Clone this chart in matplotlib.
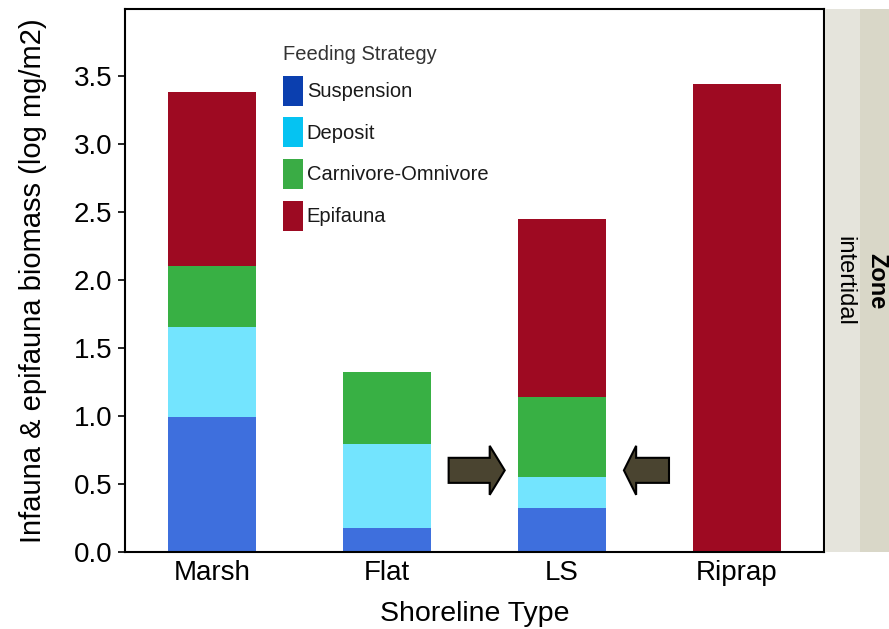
import matplotlib
matplotlib.use("Agg")
import matplotlib.pyplot as plt
import numpy as np
from matplotlib.patches import Patch, Rectangle, FancyArrow

plt.rcParams['font.family'] = ['Liberation Sans', 'DejaVu Sans']

# ====== DATA ======
shorelines = ["Marsh", "Flat", "LS", "Riprap"]
strategies = ["Suspension", "Deposit", "Carnivore-Omnivore", "Epifauna"]
suspension = [0.99, 0.18, 0.32, 0.0]
deposit = [0.66, 0.61, 0.23, 0.0]
carnivore = [0.45, 0.53, 0.59, 0.0]
epifauna = [1.28, 0.0, 1.31, 3.44]
yticks = [0.0, 0.5, 1.0, 1.5, 2.0, 2.5, 3.0, 3.5]

bar_colors = ["#3E6FDD", "#73E4FE", "#38B044", "#9E0A22"]
legend_colors = ["#0B3FAF", "#05C3F2", "#3AAC45", "#9C0A22"]

# ====== FIGURE ======
fig = plt.figure(figsize=(8.89, 6.29), dpi=100)
ax = fig.add_axes([125 / 889, 1 - 552 / 629, 699 / 889, 543 / 629])

x = np.arange(len(shorelines))
bottom = np.zeros(len(shorelines))
for vals, col in zip([suspension, deposit, carnivore, epifauna], bar_colors):
    ax.bar(x, vals, width=0.505, bottom=bottom, color=col, linewidth=0)
    bottom += np.array(vals)

ax.set_xlim(-0.5, 3.5)
ax.set_ylim(0, 3.99)
ax.set_xticks(x)
ax.set_xticklabels(shorelines, fontsize=20)
ax.set_yticks(yticks)
ax.set_yticklabels([f"{v:.1f}" for v in yticks], fontsize=20)
ax.tick_params(axis='x', length=0, pad=6)
ax.tick_params(axis='y', length=5, width=1.2, pad=4)
for sp in ax.spines.values():
    sp.set_linewidth(1.5)

ax.set_xlabel("Shoreline Type", fontsize=20.5)
ax.set_ylabel("Infauna & epifauna biomass (log mg/m2)", fontsize=21)
ax.xaxis.set_label_coords(0.5, -0.09)
ax.yaxis.set_label_coords(-0.111, 0.5)

# arrows pointing at LS bar
ls = shorelines.index("LS")
ax.add_patch(FancyArrow(ls - 0.648, 0.60, 0.321, 0, width=0.184, head_width=0.36,
                        head_length=0.086, length_includes_head=True,
                        facecolor="#4A4430", edgecolor="black", linewidth=1.5))
ax.add_patch(FancyArrow(ls + 0.613, 0.60, -0.258, 0, width=0.184, head_width=0.36,
                        head_length=0.07, length_includes_head=True,
                        facecolor="#4A4430", edgecolor="black", linewidth=1.5))

# legend
handles = [Patch(facecolor=c, edgecolor='none') for c in legend_colors]
leg = ax.legend(handles, strategies, title="Feeding Strategy", loc="upper left",
                bbox_to_anchor=(0.211, 0.952), frameon=False, fontsize=14.5,
                title_fontsize=14.5, handlelength=1.0, handleheight=1.93,
                handletextpad=0.2, labelspacing=0.57, borderpad=0,
                alignment="left")
for t in leg.get_texts():
    t.set_color("#1a1a1a")
leg.get_title().set_color("#333333")

# facet strip on the right
fig.add_artist(Rectangle((825 / 889, 1 - 552 / 629), 35 / 889, 543 / 629,
                         transform=fig.transFigure, facecolor="#E5E4DC", edgecolor='none'))
fig.add_artist(Rectangle((860 / 889, 1 - 552 / 629), 29 / 889, 543 / 629,
                         transform=fig.transFigure, facecolor="#D9D7C8", edgecolor='none'))
fig.text(844 / 889, 1 - 281 / 629, "intertidal", rotation=270, fontsize=17,
         ha='center', va='center')
fig.text(877 / 889, 1 - 281 / 629, "Zone", rotation=270, fontsize=17,
         fontweight='bold', ha='center', va='center')

fig.savefig("out.png", dpi=100)
